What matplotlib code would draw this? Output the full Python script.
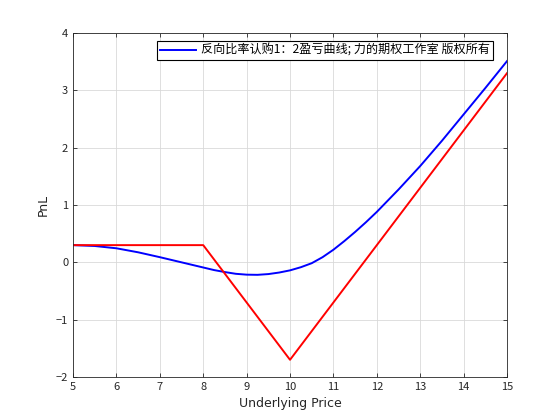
import matplotlib
matplotlib.use('Agg')
import matplotlib.pyplot as plt

plt.rcParams['font.family'] = ['Noto Sans CJK SC', 'DejaVu Sans']

# underlying price grid
price = [5, 5.5, 6, 6.5, 7, 7.5, 8, 8.25, 8.5, 8.75, 9, 9.25, 9.5, 9.75, 10, 10.25, 10.5,
         10.75, 11, 11.25, 11.5, 11.75, 12, 12.5, 13, 13.5, 14, 14.5, 15]
# value before expiry (blue)
pnl_now = [0.30, 0.285, 0.245, 0.175, 0.09, 0.00, -0.09, -0.135, -0.17, -0.20, -0.215, -0.218,
           -0.205, -0.178, -0.14, -0.085, -0.015, 0.09, 0.22, 0.37, 0.53, 0.70, 0.88, 1.27,
           1.68, 2.12, 2.58, 3.04, 3.51]
# expiry payoff (red), at its kinks
expiry_x = [5, 8, 10, 15]
expiry_y = [0.3, 0.3, -1.7, 3.3]

legend_label = '反向比率认购1：2盈亏曲线; 力的期权工作室 版权所有'

axcol = (0.15, 0.15, 0.15)

fig = plt.figure(figsize=(5.6, 4.2), dpi=100)
ax = fig.add_axes([0.1304, 0.1024, 0.775, 0.819])

ax.plot(price, pnl_now, color='blue', lw=1.4, label=legend_label)
ax.plot(expiry_x, expiry_y, color='red', lw=1.4)

ax.set_xlim(5, 15)
ax.set_ylim(-2, 4)
ax.set_xticks(range(5, 16))
ax.set_yticks(range(-2, 5))
ax.grid(True, color=(0.85, 0.85, 0.85), lw=0.6)
ax.set_axisbelow(True)
ax.tick_params(direction='in', top=True, right=True, labelsize=8, colors=axcol, length=3, width=0.6)
for s in ax.spines.values():
  s.set_color(axcol)
  s.set_linewidth(0.6)

ax.set_xlabel('Underlying Price', fontsize=9, color=axcol, family='DejaVu Sans')
ax.set_ylabel('PnL', fontsize=9, color=axcol, family='DejaVu Sans')

leg = ax.legend(loc='upper right', bbox_to_anchor=(0.968, 0.977), fontsize=8.7,
                fancybox=False, framealpha=1, edgecolor='black', handlelength=3.0,
                borderpad=0.25, borderaxespad=0, handletextpad=0.4)
leg.get_frame().set_linewidth(0.8)

fig.savefig('out.png', dpi=100, facecolor='white')
